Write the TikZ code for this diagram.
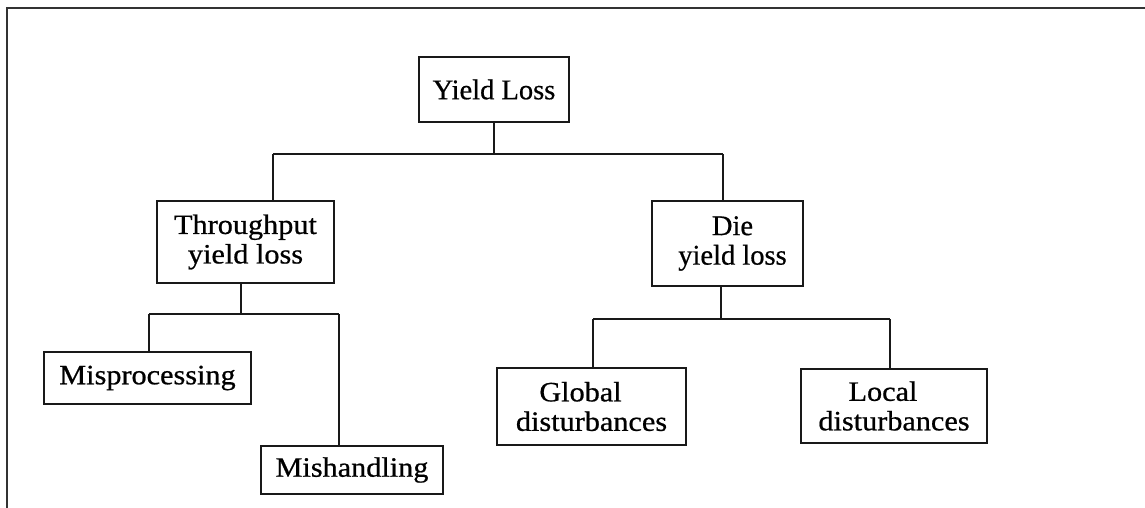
\documentclass[tikz,border=0pt]{standalone}
\usepackage{fontspec}
\setmainfont{Liberation Serif}[FakeBold=0.6]
\newfontfamily\widefont[FakeStretch=1.08,FakeBold=0.7]{Liberation Serif}
\begin{document}
\begin{tikzpicture}[x=1pt,y=-1pt,
  box/.style={draw=black!90, line width=1.4pt, inner sep=0pt, align=center,
              font=\widefont\fontsize{28}{29.5}\selectfont},
  plainbox/.style={box, font=\fontsize{28.5}{29.5}\selectfont},
  link/.style={draw=black!90, line width=1.3pt},
  frame/.style={draw=black!80, line width=2.2pt}]
  \useasboundingbox (0,0) rectangle (1145,508);
  % outer frame: top and left edges only
  \draw[frame] (7,508) -- (7,8) -- (1145,8);

  % nodes
  \node[plainbox, minimum width=150pt, minimum height=65pt] (yl) at (494,89.5) {Yield Loss};
  \node[box, minimum width=177pt, minimum height=82pt] (tp) at (245.5,242) {Throughput\\yield loss};
  \node[plainbox, minimum width=151pt, minimum height=85pt] (die) at (727.5,243.5) {\hspace*{10pt}Die\\\hspace*{10pt}yield loss};
  \node[box, minimum width=207pt, minimum height=52pt] (mp) at (147.5,378) {Misprocessing};
  \node[box, minimum width=182pt, minimum height=48pt] (mh) at (352,470) {Mishandling};
  \node[box, minimum width=189pt, minimum height=77pt] (gd) at (591.5,406.5) {Global\hspace*{22pt}\\disturbances};
  \node[box, minimum width=186pt, minimum height=74pt] (ld) at (894,406) {Local\hspace*{22pt}\\disturbances};

  % bus coordinates
  \coordinate (b1l) at (273,154);
  \coordinate (b1r) at (723,154);
  \coordinate (b2)  at (241,314);
  \coordinate (b2l) at (149,314);
  \coordinate (b2r) at (339,314);
  \coordinate (b3)  at (721,319);
  \coordinate (b3l) at (593,319);
  \coordinate (b3r) at (890,319);

  % level 1
  \draw[link] (yl.south) -- (yl.south |- b1l);
  \draw[link] (b1l) -- (b1r);
  \draw[link] (b1l) -- (b1l |- tp.north);
  \draw[link] (b1r) -- (b1r |- die.north);

  % throughput branch
  \draw[link] (b2 |- tp.south) -- (b2);
  \draw[link] (b2l) -- (b2r);
  \draw[link] (b2l) -- (b2l |- mp.north);
  \draw[link] (b2r) -- (b2r |- mh.north);

  % die branch
  \draw[link] (b3 |- die.south) -- (b3);
  \draw[link] (b3l) -- (b3r);
  \draw[link] (b3l) -- (b3l |- gd.north);
  \draw[link] (b3r) -- (b3r |- ld.north);
\end{tikzpicture}
\end{document}
